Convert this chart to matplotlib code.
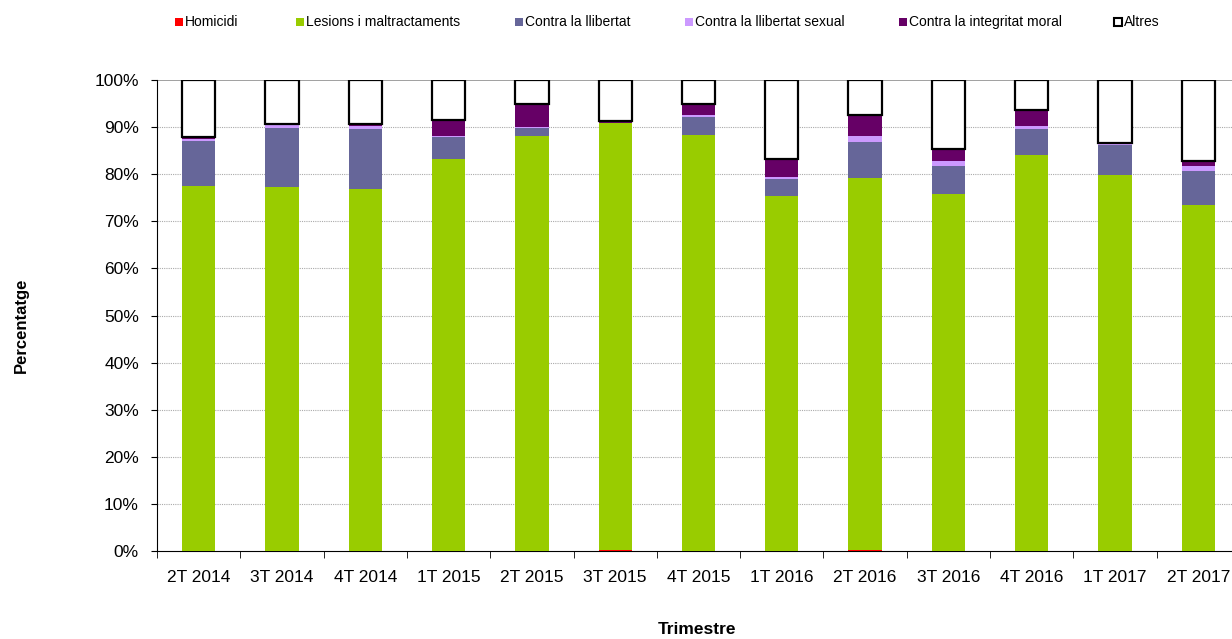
import matplotlib
matplotlib.use("Agg")
import matplotlib.pyplot as plt
import numpy as np
from matplotlib.patches import Rectangle

categories = ["2T 2014", "3T 2014", "4T 2014", "1T 2015", "2T 2015", "3T 2015", "4T 2015",
              "1T 2016", "2T 2016", "3T 2016", "4T 2016", "1T 2017", "2T 2017"]
homicidi = [0.0, 0.0, 0.0, 0.0, 0.0, 0.3, 0.0, 0.0, 0.2, 0.0, 0.0, 0.0, 0.0]
lesions = [77.5, 77.3, 76.9, 83.3, 88.2, 90.5, 88.3, 75.4, 79.0, 75.9, 84.0, 79.8, 73.5]
llibertat = [9.5, 12.6, 12.8, 4.6, 1.7, 0.0, 3.9, 3.5, 7.7, 5.8, 5.7, 6.5, 7.2]
sexual = [0.4, 0.5, 0.5, 0.2, 0.1, 0.0, 0.4, 0.4, 1.2, 1.1, 0.5, 0.1, 1.0]
moral = [0.6, 0.3, 0.5, 3.4, 5.0, 0.4, 2.4, 3.9, 4.5, 2.5, 3.5, 0.2, 1.0]
altres = [12.0, 9.3, 9.3, 8.5, 5.0, 8.8, 5.0, 16.8, 7.4, 14.7, 6.3, 13.4, 17.3]
yticks = list(range(0, 101, 10))

names = ["Homicidi", "Lesions i maltractaments", "Contra la llibertat",
         "Contra la llibertat sexual", "Contra la integritat moral", "Altres"]
colors = ["#FF0000", "#99CC00", "#666699", "#CC99FF", "#660066", "#FFFFFF"]

plt.rcParams['font.family'] = ['Liberation Sans', 'DejaVu Sans']

W, H = 1232, 639
fig = plt.figure(figsize=(W / 100, H / 100), dpi=100)
ax = fig.add_axes([157 / W, 1 - 551 / H, 1083 / W, 471 / H])

x = np.arange(len(categories))
series = [homicidi, lesions, llibertat, sexual, moral, altres]
bottom = np.zeros(len(categories))
for vals, c, n in zip(series, colors, names):
    vals = np.array(vals)
    if n == "Altres":
        ax.bar(x, vals, 0.4, bottom=bottom, color=c, edgecolor="black", linewidth=1.6, zorder=3)
    else:
        ax.bar(x, vals, 0.4, bottom=bottom, color=c, edgecolor="none", zorder=3)
    bottom += vals

ax.set_xlim(-0.5, len(categories) - 0.5)
ax.set_ylim(0, 100)
ax.set_yticks(yticks)
ax.set_yticklabels([f"{v}%" for v in yticks], fontsize=12.5)
ax.set_xticks(x)
ax.set_xticklabels(categories, fontsize=12.5)
ax.set_xticks(np.arange(len(categories) + 1) - 0.5, minor=True)
ax.tick_params(axis='x', which='major', length=0, pad=14)
ax.tick_params(axis='x', which='minor', length=5, direction='out', color='black')
ax.tick_params(axis='y', length=4, direction='out', color='black', pad=9)

for v in yticks[1:-1]:
    ax.axhline(v, color="#AAAAAA", linewidth=0.8, linestyle=(0, (1, 1)), zorder=1)
ax.axhline(100, color="#999999", linewidth=1.3, zorder=1)

for s in ["top", "right"]:
    ax.spines[s].set_visible(False)
ax.spines["left"].set_color("black")
ax.spines["bottom"].set_color("black")

fig.text(21 / W, 1 - 325 / H, "Percentatge", rotation=90, ha="center", va="center",
         fontsize=12, fontweight="bold")
fig.text(697 / W, 1 - 630 / H, "Trimestre", ha="center", va="center", fontsize=12.5, fontweight="bold")

# legend entries placed individually
leg_x = [175, 296, 515, 685, 899, 1114]
leg_y = 22
sq = 8
for lx, c, n in zip(leg_x, colors, names):
    if n == "Altres":
        r = Rectangle((lx / W, 1 - (leg_y + sq / 2) / H), sq / W, sq / H, transform=fig.transFigure,
                      facecolor=c, edgecolor="black", linewidth=1.5)
    else:
        r = Rectangle((lx / W, 1 - (leg_y + sq / 2) / H), sq / W, sq / H, transform=fig.transFigure,
                      facecolor=c, edgecolor="none")
    fig.add_artist(r)
    fig.text((lx + sq + 2) / W, 1 - leg_y / H, n, ha="left", va="center", fontsize=10)

fig.savefig("out.png", dpi=100)
